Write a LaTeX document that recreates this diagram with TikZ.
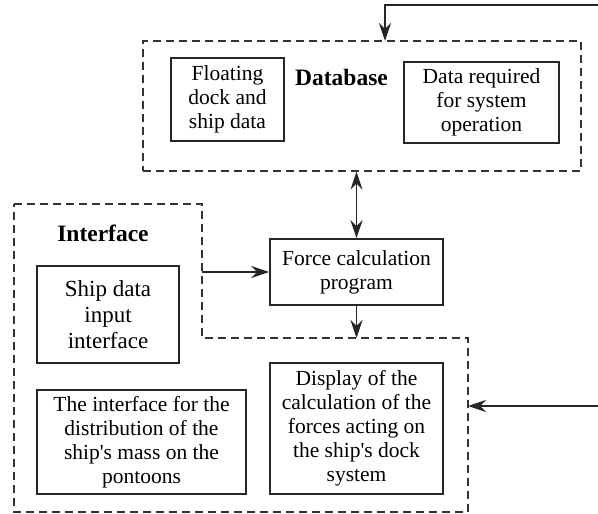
\documentclass[tikz,border=0pt]{standalone}
\usepackage{fontspec}
\setmainfont{Liberation Serif}
\usetikzlibrary{positioning,arrows.meta}

\begin{document}
\begin{tikzpicture}[x=1pt,y=-1pt,
		boxnode/.style={rectangle, draw=black!85, line width=1.6pt, align=center, inner sep=0pt, font=\fontsize{21.5}{24}\selectfont},
		bignode/.style={boxnode, font=\fontsize{23}{26}\selectfont},
		titlenode/.style={inner sep=0pt, font=\fontsize{23.5}{26}\selectfont\bfseries},
		region/.style={draw=black!80, line width=1.3pt, dash pattern=on 8pt off 5pt},
		arrowline/.style={draw=black!85, line width=1.8pt, -{Stealth[length=18pt,width=12pt,inset=6pt]}},
		twoline/.style={draw=black!85, line width=1.8pt, {Stealth[length=18pt,width=12pt,inset=6pt]}-{Stealth[length=18pt,width=12pt,inset=6pt]}},
		]
		\useasboundingbox (0,0) rectangle (598,514);
		
		%Regions
		\node[region, minimum width=438pt, minimum height=130pt] (db) at (362,106) {};
		\draw[region] (14,204) -- (202,204) -- (202,338) -- (468,338) -- (468,512) -- (14,512) -- cycle;
		
		%Nodes
		\node[titlenode]      (dbtitle) 	at 	(341.5,77)      {Database};
		\node[titlenode]      (iftitle) 	at 	(103,233)       {Interface};
		\node[boxnode, minimum width=113pt, minimum height=83pt]  (fdock) at (227.5,99.5) {Floating\\dock and\\ship data};
		\node[boxnode, minimum width=155pt, minimum height=81pt]  (dreq)  at (481.5,102.5) {Data required\\for system\\operation};
		\node[boxnode, minimum width=173pt, minimum height=66pt]  (force) at (356.5,272) {Force calculation\\program};
		\node[bignode, minimum width=142pt, minimum height=97pt]  (shipin) at (108,314.5) {Ship data\\input\\interface};
		\node[boxnode, minimum width=209pt, minimum height=104pt] (mass)  at (141.5,442) {The interface for the\\distribution of the\\ship\textquotesingle s mass on the\\pontoons};
		\node[boxnode, minimum width=173pt, minimum height=131pt] (disp)  at (356.5,428.5) {Display of the\\calculation of the\\forces acting on\\the ship\textquotesingle s dock\\system};
		
		%Coordinates
		\coordinate (fbstart) at (598,5);
		\coordinate (dbin)    at (385,41);
		\coordinate (ifout)   at (202,272);
		\coordinate (ifin)    at (356.5,338);
		\coordinate (rtstart) at (598,406);
		\coordinate (rtin)    at (468,406);
		
		%Lines
		\draw[arrowline] (fbstart) -| (dbin);
		\draw[twoline] (force.north |- db.south) -- (force.north);
		\draw[arrowline] (ifout) -- (force.west);
		\draw[arrowline] (force.south) -- (ifin);
		\draw[arrowline] (rtstart) -- (rtin);
\end{tikzpicture}
\end{document}
